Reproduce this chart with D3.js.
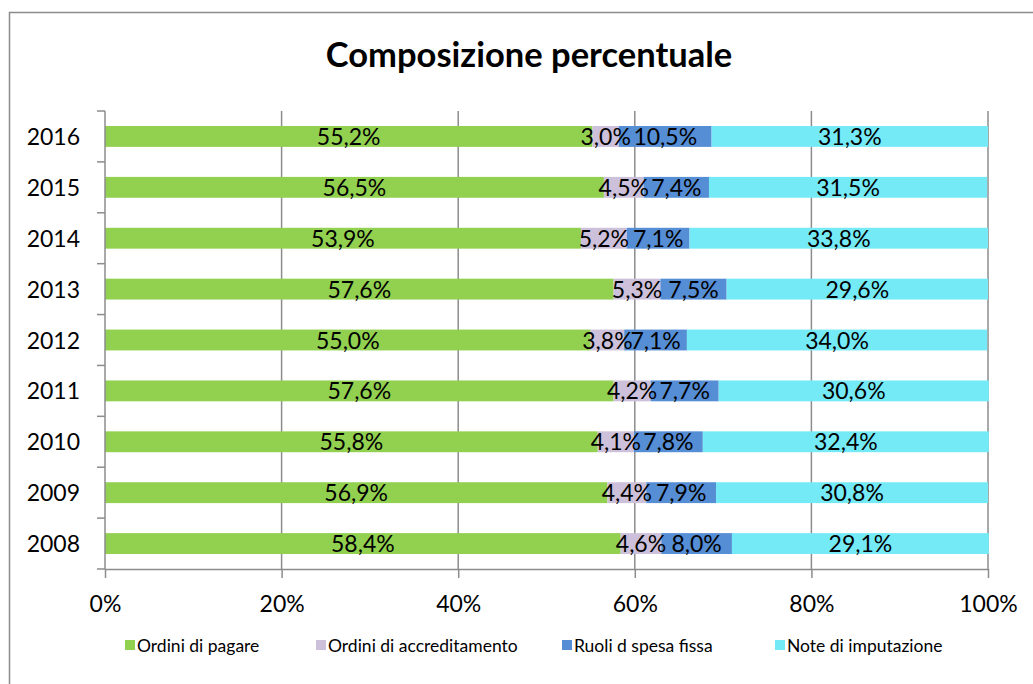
<!DOCTYPE html>
<html><head><meta charset="utf-8">
<script src="https://cdn.jsdelivr.net/npm/d3@7"></script>
<style>body{margin:0;background:#fff;}svg{display:block;font-family:Lato,"Open Sans",sans-serif;}</style>
</head><body>
<svg id="c" width="1033" height="684"></svg>
<script>
const years = ["2016","2015","2014","2013","2012","2011","2010","2009","2008"];
const seriesNames = ["Ordini di pagare","Ordini di accreditamento","Ruoli d spesa fissa","Note di imputazione"];
const ordiniPagare = [55.2,56.5,53.9,57.6,55.0,57.6,55.8,56.9,58.4];
const ordiniAccreditamento = [3.0,4.5,5.2,5.3,3.8,4.2,4.1,4.4,4.6];
const ruoliSpesaFissa = [10.5,7.4,7.1,7.5,7.1,7.7,7.8,7.9,8.0];
const noteImputazione = [31.3,31.5,33.8,29.6,34.0,30.6,32.4,30.8,29.1];
const xTicks = [0,20,40,60,80,100];
const colors = ["#92D050","#CCC0DA","#558ED5","#75EAF7"];

const svg = d3.select("#c");
const m = {left:105, right:988, top:111, bottom:569};

svg.append("rect").attr("x",9.5).attr("y",12.5).attr("width",1040).attr("height",700)
  .attr("fill","none").attr("stroke","#8c8c8c").attr("stroke-width",1.5);

svg.append("text").attr("x",529).attr("y",67).attr("text-anchor","middle")
  .attr("font-weight","bold").attr("font-size",34.5).text("Composizione percentuale");

const x = d3.scaleLinear().domain([0,100]).range([m.left,m.right]);
const y = d3.scaleBand().domain(years).range([m.top,m.bottom]).paddingInner(0.59).paddingOuter(0.295);

const rows = years.map((yr,i)=>({year:yr, vals:[ordiniPagare[i],ordiniAccreditamento[i],ruoliSpesaFissa[i],noteImputazione[i]]}));
const stackData = rows.map(r=>{const o={year:r.year}; seriesNames.forEach((s,j)=>o[s]=r.vals[j]); return o;});
const stacked = d3.stack().keys(seriesNames)(stackData);

// gridlines
svg.append("g").selectAll("line").data(xTicks.slice(1)).join("line")
  .attr("x1",d=>x(d)).attr("x2",d=>x(d)).attr("y1",m.top).attr("y2",m.bottom)
  .attr("stroke","#8c8c8c").attr("stroke-width",1.5);

// bars
stacked.forEach((s,j)=>{
  svg.append("g").selectAll("rect").data(s).join("rect")
    .attr("x",d=>x(d[0])).attr("width",d=>x(d[1])-x(d[0]))
    .attr("y",d=>y(d.data.year)).attr("height",y.bandwidth())
    .attr("fill",colors[j]);
});
// labels
stacked.forEach((s,j)=>{
  svg.append("g").selectAll("text").data(s).join("text")
    .attr("x",d=>x((d[0]+d[1])/2)).attr("y",d=>y(d.data.year)+y.bandwidth()/2+8.5)
    .attr("text-anchor","middle").attr("font-size",23).attr("fill","#000")
    .text(d=>d3.format(".1f")(d[1]-d[0]).replace(".",",")+"%");
});

// x axis
const xa = svg.append("g").attr("transform",`translate(0,${m.bottom})`)
  .call(d3.axisBottom(x).tickValues(xTicks).tickSize(9).tickSizeOuter(0).tickFormat(d=>d+"%"));
xa.select(".domain").attr("stroke","#8c8c8c").attr("stroke-width",1.5);
xa.selectAll(".tick line").attr("stroke","#8c8c8c").attr("stroke-width",1.5);
xa.selectAll("text").attr("font-size",23).attr("font-family","Lato,sans-serif").attr("fill","#000").attr("dy","0").attr("y",43);

// y axis
const ya = svg.append("g").attr("transform",`translate(${m.left},0)`);
ya.append("line").attr("x1",0).attr("x2",0).attr("y1",m.top).attr("y2",m.bottom).attr("stroke","#8c8c8c").attr("stroke-width",1.5);
const bounds = d3.range(years.length+1).map(i=>m.top+i*(m.bottom-m.top)/years.length);
ya.selectAll("line.t").data(bounds).join("line").attr("class","t")
  .attr("x1",-8).attr("x2",0).attr("y1",d=>d).attr("y2",d=>d).attr("stroke","#8c8c8c").attr("stroke-width",1.5);
ya.selectAll("text").data(years).join("text")
  .attr("x",-25).attr("y",d=>y(d)+y.bandwidth()/2+8.5).attr("text-anchor","end")
  .attr("font-size",23).text(d=>d);

// legend
const legX = [125,316,562,775];
const lg = svg.append("g");
seriesNames.forEach((s,j)=>{
  lg.append("rect").attr("x",legX[j]).attr("y",640).attr("width",10).attr("height",10).attr("fill",colors[j]);
  lg.append("text").attr("x",legX[j]+12).attr("y",651.5).attr("font-size",17.5).text(s);
});
</script>
</body></html>
